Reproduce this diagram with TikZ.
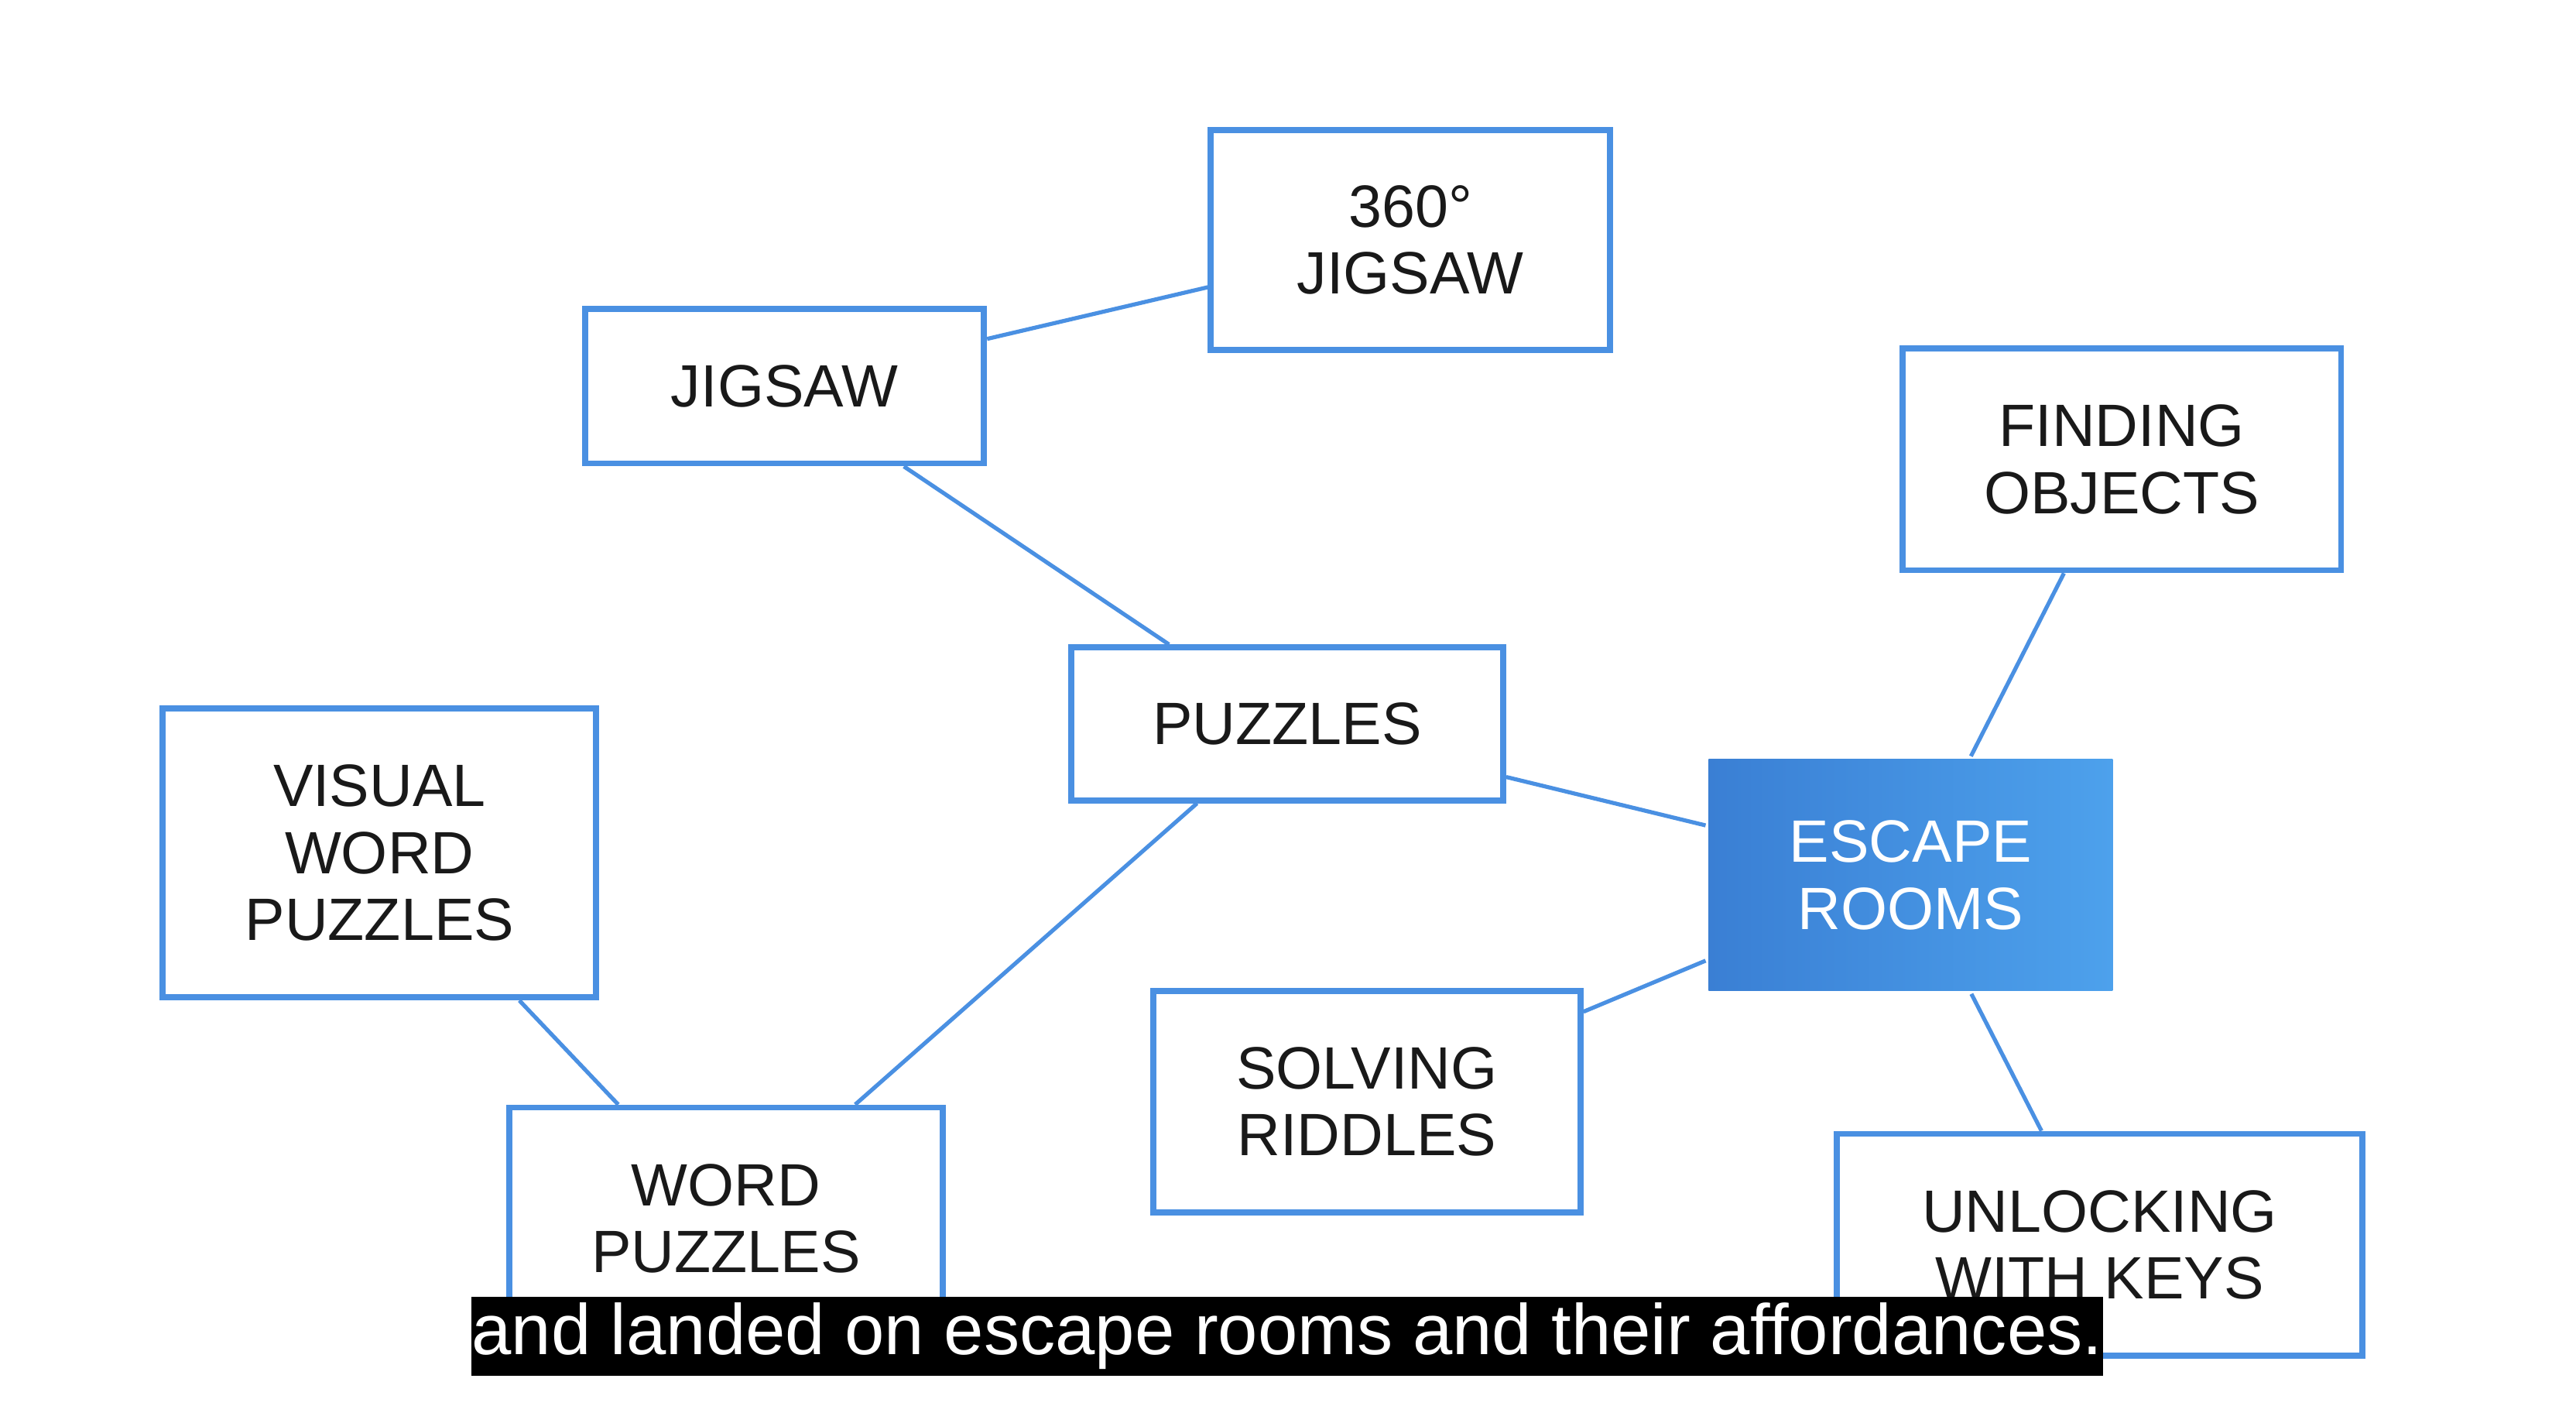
\documentclass[tikz,border=0pt]{standalone}
\usepackage{fontspec}
\setmainfont{Liberation Sans}
\definecolor{myblue}{RGB}{74,144,226}
\definecolor{darkblue}{RGB}{58,127,212}
\definecolor{lightblue}{RGB}{77,161,236}
\tikzset{
		edgeStyle/.style = 	{line width = 1.4pt, color=myblue},
		topic/.style = 		{draw=myblue, line width=2.1pt, fill=white, align=center, inner sep=0pt, text=black!90, font=\fontsize{20.7}{23.2}\selectfont},
		core/.style =		{topic, draw=none, left color=darkblue, right color=lightblue, text=white},
		subtitle/.style =	{fill=black, text=white, inner sep=0pt, font=\fontsize{24.75}{26}\selectfont}
}

\begin{document}
\begin{tikzpicture}[x=0.02cm, y=-0.02cm]
  \useasboundingbox (0,0) rectangle (1568,855.6);

  \node [topic, minimum width=4.86cm, minimum height=2.68cm] (threesixty) at (858.5,146) {360°\\JIGSAW};
  \node [topic, minimum width=4.86cm, minimum height=1.88cm] (jigsaw) at (477.5,235) {JIGSAW};
  \node [topic, minimum width=5.34cm, minimum height=2.70cm] (finding) at (1291.5,279.5) {FINDING\\OBJECTS};
  \node [topic, minimum width=5.26cm, minimum height=1.86cm] (puzzles) at (783.5,440.5) {PUZZLES};
  \node [topic, minimum width=5.28cm, minimum height=3.52cm] (visual) at (231,519) {VISUAL\\WORD\\PUZZLES};
  \node [core, minimum width=4.92cm, minimum height=2.82cm] (escape) at (1163,532.5) {ESCAPE\\ROOMS};
  \node [topic, minimum width=5.20cm, minimum height=2.70cm] (solving) at (832,670.5) {SOLVING\\RIDDLES};
  \node [topic, minimum width=5.28cm, minimum height=2.70cm] (word) at (442,741.5) {WORD\\PUZZLES};
  \node [topic, minimum width=6.40cm, minimum height=2.70cm] (unlocking) at (1278,757.5) {UNLOCKING\\WITH KEYS};

  \foreach \a/\b in {jigsaw/threesixty, jigsaw/puzzles, puzzles/escape, puzzles/word,
                     visual/word, escape/finding, escape/solving, escape/unlocking}
    \draw [edgeStyle] (\a) -- (\b);

  \node [subtitle, minimum width=19.82cm, minimum height=0.96cm] (line) at (783.5,813)
    {and landed on escape rooms and their affordances.};

\end{tikzpicture}
\end{document}
